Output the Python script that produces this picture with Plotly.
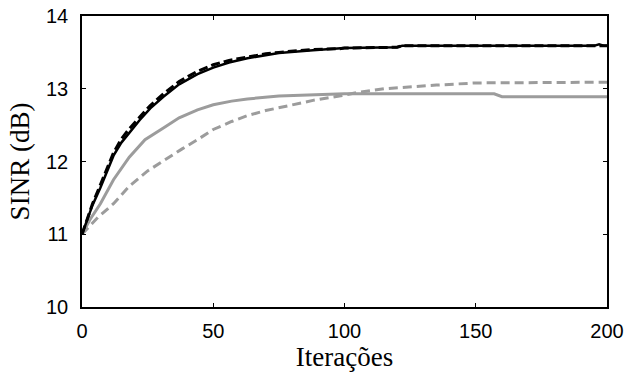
import plotly.graph_objects as go

# Data
black_solid_x = [0, 2, 4, 7, 10, 12, 15, 18, 22, 26, 31, 37, 44, 50, 56, 63, 70, 75, 88, 98, 100, 120, 122, 195, 197, 199, 200]
black_solid_y = [11.0, 11.2, 11.4, 11.64, 11.92, 12.08, 12.26, 12.4, 12.57, 12.73, 12.89, 13.06, 13.2, 13.29, 13.36, 13.42, 13.46, 13.49, 13.53, 13.55, 13.56, 13.57, 13.59, 13.59, 13.61, 13.59, 13.59]

black_dash_x = [0, 2, 4, 7, 10, 12, 15, 18, 22, 26, 31, 37, 44, 50, 56, 63, 70, 75, 88, 98, 100, 120, 122, 200]
black_dash_y = [11.0, 11.2, 11.42, 11.68, 11.96, 12.12, 12.31, 12.45, 12.61, 12.77, 12.93, 13.1, 13.24, 13.33, 13.39, 13.44, 13.48, 13.5, 13.54, 13.55, 13.56, 13.57, 13.59, 13.59]

gray_solid_x = [0, 3, 7, 12, 18, 24, 31, 37, 44, 50, 57, 63, 75, 88, 100, 157, 160, 200]
gray_solid_y = [11.0, 11.2, 11.42, 11.75, 12.06, 12.3, 12.46, 12.6, 12.71, 12.78, 12.83, 12.86, 12.9, 12.92, 12.93, 12.93, 12.89, 12.89]

gray_dash_x = [0, 3, 6, 12, 18, 25, 31, 38, 44, 50, 57, 63, 70, 75, 82, 88, 98, 105, 115, 126, 135, 150, 200]
gray_dash_y = [11.0, 11.12, 11.23, 11.42, 11.66, 11.87, 12.01, 12.17, 12.3, 12.44, 12.55, 12.63, 12.7, 12.74, 12.8, 12.84, 12.9, 12.95, 13.0, 13.03, 13.05, 13.08, 13.09]

x_ticks = [0, 50, 100, 150, 200]
y_ticks = [10, 11, 12, 13, 14]

GRAY = "#9c9c9c"
SANS = "Liberation Sans"
SERIF = "Liberation Serif"

fig = go.Figure()
fig.add_trace(go.Scatter(x=gray_dash_x, y=gray_dash_y, mode="lines",
                         line=dict(color=GRAY, width=3, dash="9px,5px")))
fig.add_trace(go.Scatter(x=gray_solid_x, y=gray_solid_y, mode="lines",
                         line=dict(color=GRAY, width=3)))
fig.add_trace(go.Scatter(x=black_dash_x, y=black_dash_y, mode="lines",
                         line=dict(color="black", width=3, dash="9px,4px")))
fig.add_trace(go.Scatter(x=black_solid_x, y=black_solid_y, mode="lines",
                         line=dict(color="black", width=2.5)))

axis_common = dict(showline=True, linecolor="black", linewidth=1.5, mirror="ticks",
                   ticks="inside", ticklen=4, tickcolor="black", tickwidth=1,
                   showgrid=False, zeroline=False, automargin=False,
                   tickfont=dict(family=SANS, size=20, color="black"))

fig.update_layout(
    width=625, height=377,
    margin=dict(l=82, r=18, t=16, b=70),
    paper_bgcolor="white", plot_bgcolor="white",
    showlegend=False,
    font=dict(family=SANS),
    xaxis=dict(range=[0, 200], tickvals=x_ticks, ticklabelstandoff=5,
               title=dict(text="Iterações", standoff=3,
                          font=dict(family=SERIF, size=27, color="black")),
               **axis_common),
    yaxis=dict(range=[10, 14], tickvals=y_ticks, ticklabelstandoff=8,
               title=dict(text="SINR (dB)", standoff=9,
                          font=dict(family=SERIF, size=27, color="black")),
               **axis_common),
)

fig.write_html("out.html", config={"displayModeBar": False},
               post_script="document.body.style.margin='0';document.body.style.overflow='hidden';")
